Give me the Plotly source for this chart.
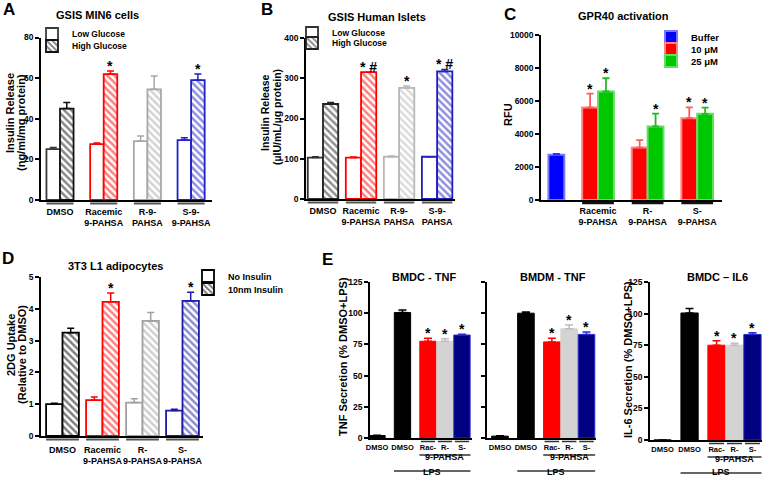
import plotly.graph_objects as go

W, H = 765, 483
FONT = "Liberation Sans, Arial, Helvetica, sans-serif"


def px(x):
    return x / W


def py(y):
    return 1 - y / H


# ---------------- data ----------------
# Panel A: GSIS MIN6 cells
a_groups = ["DMSO", "Racemic<br>9-PAHSA", "R-9-<br>PAHSA", "S-9-<br>9-PAHSA"]
a_low = [25, 27.5, 29, 29.5]
a_low_err = [0.8, 0.6, 2.5, 1.2]
a_high = [45, 62, 54.5, 59]
a_high_err = [3, 1.5, 6.5, 3]
a_sig = ["", "*", "", "*"]
a_ticks = [0, 20, 40, 60, 80]

# Panel B: GSIS Human Islets
b_groups = ["DMSO", "Racemic<br>9-PAHSA", "R-9-<br>PAHSA", "S-9-<br>PAHSA"]
b_low = [103, 103, 105, 105]
b_low_err = [2, 1.5, 2, 0]
b_high = [236, 315, 276, 317]
b_high_err = [4, 0, 5, 5]
b_sig = ["", "* #", "*", "* #"]
b_ticks = [0, 100, 200, 300, 400]

# Panel C: GPR40 activation
c_groups = ["", "Racemic<br>9-PAHSA", "R-<br>9-PAHSA", "S-<br>9-PAHSA"]
c_buffer = [2750]
c_buffer_err = [60]
c_10 = [5600, 3180, 4960]
c_10_err = [850, 450, 650]
c_25 = [6580, 4460, 5220]
c_25_err = [800, 780, 380]
c_sig_10 = ["*", "", "*"]
c_sig_25 = ["*", "*", "*"]
c_ticks = [0, 2000, 4000, 6000, 8000, 10000]

# Panel D: 3T3 L1 adipocytes
d_groups = ["DMSO", "Racemic<br>9-PAHSA", "R-<br>9-PAHSA", "S-<br>9-PAHSA"]
d_low = [1.0, 1.13, 1.05, 0.8]
d_low_err = [0.03, 0.1, 0.12, 0.04]
d_high = [3.25, 4.22, 3.62, 4.25]
d_high_err = [0.14, 0.28, 0.26, 0.27]
d_sig = ["", "*", "", "*"]
d_ticks = [0, 1, 2, 3, 4, 5]

# Panel E: cytokine secretion
e_labels = ["DMSO", "DMSO", "Rac-", "R-", "S-"]
e1_vals = [2, 100.5, 77.5, 77.5, 82.5]
e1_err = [0.3, 2, 2.5, 2, 0.7]
e2_vals = [1.5, 100, 77, 87.5, 83]
e2_err = [0.3, 1, 3, 3, 2]
e3_vals = [0, 100.5, 75, 75, 83.5]
e3_err = [0, 3.5, 3.5, 1.5, 1.3]
e_sig = ["", "", "*", "*", "*"]
e_ticks = [0, 25, 50, 75, 100, 125]

# ---------------- styles ----------------
A_LOW_COL = ["#3a3a3a", "#ff0000", "#a8a8a8", "#2020c8"]
A_HIGH_COL = ["#111111", "#ff0000", "#a8a8a8", "#2020c8"]
B_LOW_COL = ["#333333", "#ff0000", "#b8b8b8", "#1f1fc0"]
B_HIGH_COL = ["#222222", "#ff0000", "#b8b8b8", "#1f1fc0"]
D_LOW_COL = ["#000000", "#ff0000", "#a0a0a0", "#1a1aa8"]
D_HIGH_COL = ["#000000", "#ff0000", "#a0a0a0", "#1a1aa8"]
E_FILL = ["#000000", "#000000", "#ff0000", "#d3d3d3", "#000080"]
E_LINE = ["#000000", "#000000", "#ff0000", "#d3d3d3", "#2a2ad0"]
E_ERR = ["#000000", "#000000", "#ff0000", "#bdbdbd", "#2a2ad0"]

fig = go.Figure()


def ax_names(n):
    s = "" if n == 1 else str(n)
    return "x" + s, "y" + s, "xaxis" + s, "yaxis" + s


def bold(size, color="black"):
    return dict(family=FONT, size=size, color=color, weight="bold")


def add_axes(n, xdom, ydom, xrange, yrange, yticks, tickvals, ticktext,
             xfont=9, standoff=0, show_ylabels=True):
    xn, yn, xk, yk = ax_names(n)
    fig.update_layout(**{
        xk: dict(domain=[px(xdom[0]), px(xdom[1])], range=xrange, anchor=yn,
                 showline=True, linecolor="black", linewidth=1.5, ticks="",
                 showgrid=False, zeroline=False, tickmode="array",
                 tickvals=tickvals, ticktext=ticktext, tickfont=bold(xfont),
                 tickangle=0, ticklabelstandoff=standoff, fixedrange=True),
        yk: dict(domain=[py(ydom[1]), py(ydom[0])], range=yrange, anchor=xn,
                 showline=True, linecolor="black", linewidth=1.5,
                 ticks="outside", ticklen=4, tickwidth=1.5, tickcolor="black",
                 showgrid=False, zeroline=False, tickmode="array",
                 tickvals=yticks, tickformat="d", showticklabels=show_ylabels,
                 tickfont=bold(8.5), fixedrange=True),
    })


def err(v, color, w=3.5, t=1.5):
    return dict(type="data", array=[v], arrayminus=[0], symmetric=False,
                color=color, thickness=t, width=w, visible=True)


def star(xn, yn, x, y, text, size=14):
    fig.add_annotation(x=x, y=y, xref=xn, yref=yn, text=text, showarrow=False,
                       yanchor="bottom", yshift=-5, font=bold(size))


def underline(xn, x0, x1, ypix, color="#555555", width=2):
    fig.add_shape(type="line", xref=xn, yref="paper", x0=x0, x1=x1,
                  y0=py(ypix), y1=py(ypix), line=dict(color=color, width=width))


def pair_panel(n, low, low_err, high, high_err, low_col, high_col, bw,
               leg_low, leg_high, name_low, name_high, sig, uline_y):
    xn, yn, _, _ = ax_names(n)
    for i in range(len(low)):
        fig.add_trace(go.Bar(
            x=[i], y=[low[i]], width=bw, offset=-bw, xaxis=xn, yaxis=yn,
            marker=dict(color="white", line=dict(color=low_col[i], width=1.8)),
            error_y=err(low_err[i], low_col[i]),
            name=name_low, legend=leg_low, showlegend=(i == 0)))
        fig.add_trace(go.Bar(
            x=[i], y=[high[i]], width=bw, offset=0, xaxis=xn, yaxis=yn,
            marker=dict(color="white", line=dict(color=high_col[i], width=1.8),
                        pattern=dict(shape="\\", fgcolor=high_col[i],
                                     bgcolor="white", size=5, solidity=0.5)),
            error_y=err(high_err[i], high_col[i]),
            name=name_high, legend=leg_high, showlegend=(i == 0)))
        if sig[i]:
            star(xn, yn, i + bw / 2, high[i] + high_err[i], sig[i])
        underline(xn, i - bw, i + bw, uline_y)


# ---------------- Panel A ----------------
A_BW = 0.31
add_axes(1, (41, 212), (37.5, 200), [-0.435, 3.478], [0, 80], a_ticks,
         list(range(len(a_groups))), a_groups, xfont=9, standoff=2)
pair_panel(1, a_low, a_low_err, a_high, a_high_err, A_LOW_COL, A_HIGH_COL,
           A_BW, "legend", "legend2", "Low Glucose", "High Glucose", a_sig, 203.5)

# ---------------- Panel B ----------------
B_BW = 0.4
add_axes(2, (306, 455), (38, 199), [-0.447, 3.47], [0, 400], b_ticks,
         list(range(len(b_groups))), b_groups, xfont=9, standoff=2)
pair_panel(2, b_low, b_low_err, b_high, b_high_err, B_LOW_COL, B_HIGH_COL,
           B_BW, "legend3", "legend4", "Low Glucose", "High Glucose", b_sig, 202.5)

# ---------------- Panel C ----------------
C_BW = 0.32
add_axes(3, (541, 722), (35, 200), [-0.15, 3.5], [0, 10000], c_ticks,
         list(range(len(c_groups))), c_groups, xfont=9, standoff=1)
fig.add_trace(go.Bar(
    x=[0], y=c_buffer, width=C_BW, offset=0, xaxis="x3", yaxis="y3",
    marker=dict(color="#0000ff", line=dict(color="#7878ff", width=2)),
    error_y=dict(type="data", array=c_buffer_err, arrayminus=[0], symmetric=False,
                 color="#3030ff", thickness=1.5, width=3.5),
    name="Buffer", legend="legend5"))
c_idx = list(range(1, len(c_groups)))
fig.add_trace(go.Bar(
    x=c_idx, y=c_10, width=C_BW, offset=-C_BW, xaxis="x3", yaxis="y3",
    marker=dict(color="#ff0000", line=dict(color="#ff8484", width=2)),
    error_y=dict(type="data", array=c_10_err, arrayminus=[0] * 3, symmetric=False,
                 color="#ff5a5a", thickness=1.8, width=3.5),
    name="10 μM", legend="legend6"))
fig.add_trace(go.Bar(
    x=c_idx, y=c_25, width=C_BW, offset=0, xaxis="x3", yaxis="y3",
    marker=dict(color="#00c800", line=dict(color="#66de66", width=2)),
    error_y=dict(type="data", array=c_25_err, arrayminus=[0] * 3, symmetric=False,
                 color="#22b822", thickness=1.8, width=3.5),
    name="25 μM", legend="legend7"))
for k, i in enumerate(c_idx):
    if c_sig_10[k]:
        star("x3", "y3", i - C_BW / 2, c_10[k] + c_10_err[k], c_sig_10[k])
    if c_sig_25[k]:
        star("x3", "y3", i + C_BW / 2, c_25[k] + c_25_err[k], c_sig_25[k])
    underline("x3", i - C_BW, i + C_BW, 203, color="#111111", width=2.5)

# ---------------- Panel D ----------------
D_BW = 0.41
add_axes(4, (41, 203), (277, 436), [-0.5375, 3.5125], [0, 5], d_ticks,
         list(range(len(d_groups))), d_groups, xfont=9, standoff=4)
pair_panel(4, d_low, d_low_err, d_high, d_high_err, D_LOW_COL, D_HIGH_COL,
           D_BW, "legend8", "legend9", "No Insulin", "10nm Insulin", d_sig, 439.5)

# ---------------- Panel E ----------------
e_pos = [i + 0.5 * min(i, 2) for i in range(len(e_labels))]
E_BW = 0.96
e_specs = [
    (5, (370, 472), (282, 438), [-0.41, 5.59], e1_vals, e1_err, True, 0),
    (6, (487, 596), (282, 438), [-0.75, 5.55], e2_vals, e2_err, False, 0),
    (7, (650, 762), (282, 440), [-0.7, 5.53], e3_vals, e3_err, True, 2),
]
for n, xd, yd, xr, vals, errs, show_lab, dy in e_specs:
    xn, yn, _, _ = ax_names(n)
    add_axes(n, xd, yd, xr, [0, 125], e_ticks, e_pos, e_labels,
             xfont=7.5, standoff=1, show_ylabels=show_lab)
    for i in range(len(vals)):
        fig.add_trace(go.Bar(
            x=[e_pos[i]], y=[vals[i]], width=E_BW, xaxis=xn, yaxis=yn,
            marker=dict(color=E_FILL[i], line=dict(color=E_LINE[i], width=1)),
            error_y=err(errs[i], E_ERR[i], w=4),
            showlegend=False))
        if e_sig[i]:
            star(xn, yn, e_pos[i], vals[i] + errs[i], e_sig[i])
        if i >= 2:
            underline(xn, e_pos[i] - 0.42, e_pos[i] + 0.42, 441.5 + dy, color="#333333", width=1.5)
    underline(xn, e_pos[2] - 0.5, e_pos[-1] + 0.5, 455 + dy, color="#333333", width=1.5)
    underline(xn, e_pos[1] - 0.5, e_pos[-1] + 0.5, 471 + dy, color="#333333", width=1.5)
    fig.add_annotation(x=(e_pos[2] + e_pos[-1]) / 2, y=py(464 + dy), xref=xn, yref="paper",
                       text="9-PAHSA", showarrow=False, font=bold(9))
    fig.add_annotation(x=(e_pos[1] + e_pos[-1]) / 2, y=py(479), xref=xn, yref="paper",
                       text="LPS", showarrow=False, font=bold(9))

# ---------------- legends ----------------


def leg(xpix, ypix, size=8.5):
    return dict(x=px(xpix), y=py(ypix), xanchor="left", yanchor="middle",
                bgcolor="rgba(0,0,0,0)", borderwidth=0, font=bold(size),
                itemclick=False, itemdoubleclick=False)


fig.update_layout(
    legend=leg(32, 34), legend2=leg(32, 46),
    legend3=leg(292, 33), legend4=leg(292, 43),
    legend5=leg(651, 37, 9.5), legend6=leg(651, 49, 9.5), legend7=leg(651, 61, 9.5),
    legend8=leg(188, 276, 9), legend9=leg(188, 289, 9),
)

# ---------------- text: letters, titles, y titles ----------------


def text(x, y, s, size, angle=0):
    fig.add_annotation(x=px(x), y=py(y), xref="paper", yref="paper", text=s,
                       showarrow=False, textangle=angle, font=bold(size),
                       xanchor="center", yanchor="middle")


for s, x, y in [("A", 9, 10), ("B", 267, 10), ("C", 510, 14), ("D", 8, 258), ("E", 327, 259)]:
    text(x, y, s, 17)

for s, x, y in [("GSIS MIN6 cells", 97, 15), ("GSIS Human Islets", 377, 17),
                ("GPR40 activation", 623, 16), ("3T3 L1 adipocytes", 115, 266),
                ("BMDC - TNF", 424, 277), ("BMDM - TNF", 553, 277),
                ("BMDC – IL6", 717, 277)]:
    text(x, y, s, 11)

for s, x, y, sz in [("Insulin Release", 10, 113, 11), ("(ng/ml/mg protein)", 21, 123, 11),
                    ("Insulin Release", 265, 113, 10.5), ("(µIU/mL/µg protein)", 277, 117, 10.5),
                    ("RFU", 508, 115, 11),
                    ("2DG Uptake", 11, 345, 11), ("(Relative to DMSO)", 22, 355, 11),
                    ("TNF Secretion (% DMSO+LPS)", 343, 357, 11),
                    ("IL-6 Secretion (% DMSO+LPS)", 628, 360, 11)]:
    text(x, y, s, sz, angle=-90)

fig.update_layout(
    width=W, height=H, margin=dict(l=0, r=0, t=0, b=0, autoexpand=False),
    plot_bgcolor="white", paper_bgcolor="white", barmode="overlay",
    font=dict(family=FONT, color="black"),
)

fig.write_html("out.html", config={"displayModeBar": False},
               post_script="document.body.style.margin='0px';")
